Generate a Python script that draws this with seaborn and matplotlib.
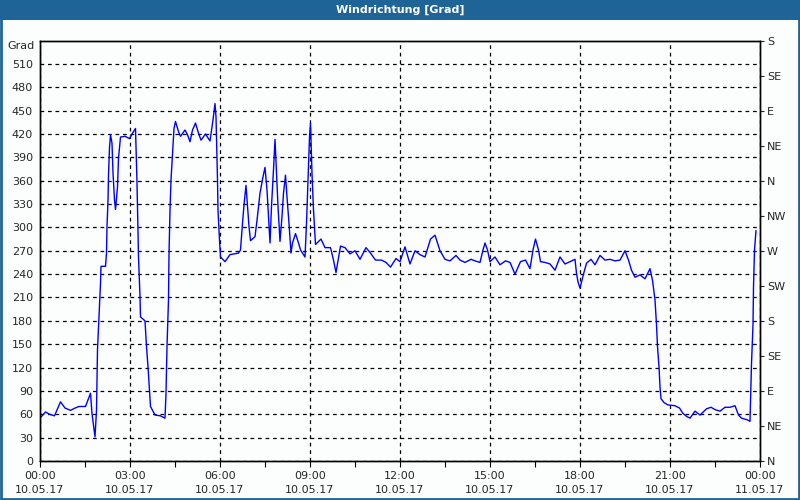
import numpy as np
import pandas as pd
import matplotlib
matplotlib.use('Agg')
import matplotlib.pyplot as plt
from matplotlib.patches import Rectangle
import seaborn as sns

# minutes since 10.05.17 00:00 and wind direction in degrees
minutes = [0, 11, 19, 29, 41, 50, 61, 70, 78, 91, 101, 104, 110, 113, 115, 118, 121, 122,
           131, 133, 134, 136, 137, 139, 141, 144, 146, 149, 151, 155, 157, 161, 170, 179,
           185, 191, 194, 197, 200, 201, 210, 213, 216, 219, 221, 230, 241, 250, 252, 254,
           257, 258, 260, 262, 265, 268, 271, 277, 281, 290, 295, 300, 305, 311, 317, 322,
           331, 340, 346, 350, 352, 355, 356, 359, 361, 370, 380, 397, 401, 404, 408, 412,
           415, 418, 421, 430, 434, 440, 446, 450, 454, 457, 460, 463, 467, 470, 473, 476,
           480, 484, 487, 491, 494, 498, 502, 505, 511, 517, 521, 530, 533, 536, 539, 541,
           544, 547, 551, 562, 570, 581, 587, 592, 601, 610, 620, 630, 640, 652, 661, 671,
           683, 692, 701, 712, 720, 730, 740, 750, 760, 770, 781, 790, 800, 810, 820, 832,
           840, 850, 862, 870, 880, 886, 890, 895, 900, 910, 920, 931, 940, 950, 961, 971,
           980, 986, 991, 997, 1001, 1010, 1020, 1030, 1040, 1050, 1060, 1070, 1073, 1076,
           1080, 1087, 1093, 1102, 1110, 1120, 1130, 1140, 1150, 1160, 1170, 1177, 1183,
           1190, 1200, 1210, 1220, 1225, 1230, 1233, 1235, 1238, 1240, 1242, 1248, 1256,
           1270, 1279, 1286, 1294, 1300, 1310, 1320, 1333, 1342, 1350, 1360, 1370, 1380,
           1390, 1397, 1403, 1414, 1420, 1421, 1423, 1426, 1427, 1429, 1432]
grad = [55, 63, 60, 58, 76, 68, 65, 68, 70, 70, 87, 61, 31, 65, 143, 185, 228, 250,
        250, 267, 301, 335, 367, 402, 419, 408, 370, 335, 323, 352, 389, 416, 417, 414,
        421, 427, 357, 262, 211, 185, 180, 147, 121, 91, 70, 59, 58, 55, 87, 147,
        207, 265, 322, 361, 395, 427, 436, 423, 417, 425, 419, 410, 425, 434, 421, 412,
        420, 411, 438, 459, 442, 361, 322, 284, 262, 256, 265, 267, 271, 297, 329, 354,
        327, 301, 283, 288, 309, 344, 365, 377, 348, 314, 280, 327, 374, 413, 369, 327,
        282, 314, 344, 367, 339, 305, 267, 280, 292, 280, 271, 262, 305, 361, 416, 434,
        369, 322, 278, 285, 274, 274, 258, 242, 276, 274, 266, 270, 259, 274, 267, 258,
        258, 255, 249, 260, 256, 275, 253, 270, 265, 262, 285, 290, 270, 259, 257, 264,
        258, 255, 259, 257, 255, 271, 280, 271, 256, 262, 252, 257, 255, 240, 256, 258,
        247, 271, 285, 271, 256, 255, 253, 245, 262, 253, 256, 259, 241, 230,
        222, 240, 254, 259, 252, 264, 258, 259, 257, 258, 270, 258, 245,
        236, 239, 234, 247, 232, 207, 175, 147, 121, 95, 80, 75, 72,
        71, 68, 61, 57, 55, 64, 59, 67, 69, 66, 64, 69, 69,
        71, 59, 55, 53, 51, 76, 125, 175, 223, 271, 296]

x_ticks = [0, 3, 6, 9, 12, 15, 18, 21, 24]
x_labels = ['00:00\n10.05.17', '03:00\n10.05.17', '06:00\n10.05.17', '09:00\n10.05.17',
            '12:00\n10.05.17', '15:00\n10.05.17', '18:00\n10.05.17', '21:00\n10.05.17',
            '00:00\n11.05.17']
y_ticks = list(range(0, 511, 30))
dir_ticks = list(range(0, 541, 45))
dir_labels = ['N', 'NE', 'E', 'SE', 'S', 'SW', 'W', 'NW', 'N', 'NE', 'E', 'SE', 'S']

df = pd.DataFrame({'h': np.array(minutes) / 60.0, 'grad': grad})

sns.set_style('white')
plt.rcParams['font.family'] = ['DejaVu Sans']
bg = '#FBFEFD'
blue_bar = '#1F6496'

fig = plt.figure(figsize=(8, 5), dpi=100, facecolor=bg)
# title bar and frame
fig.patches.append(Rectangle((0, 0.96), 1, 0.04, transform=fig.transFigure,
                             facecolor=blue_bar, edgecolor='none', zorder=0))
fig.patches.append(Rectangle((0.001, 0.002), 0.998, 0.996, transform=fig.transFigure,
                             facecolor='none', edgecolor=blue_bar, lw=2, zorder=0))
fig.text(0.5, 0.98, 'Windrichtung [Grad]', color='white', fontsize=8, fontweight='bold',
         ha='center', va='center')

ax = fig.add_axes([0.05, 0.078, 0.9, 0.841])
ax.set_facecolor(bg)
sns.lineplot(data=df, x='h', y='grad', ax=ax, color='#0000FF', lw=1)

ax.set_xlim(0, 24)
ax.set_ylim(0, 540)
ax.set_xticks(x_ticks)
ax.set_xticklabels(x_labels, fontsize=8, linespacing=1.5)
ax.set_xticks([1.5, 4.5, 7.5, 10.5, 13.5, 16.5, 19.5, 22.5], minor=True)
ax.set_yticks(y_ticks)
ax.set_yticklabels([str(v) for v in y_ticks], fontsize=8)
ax.tick_params(axis='x', which='both', direction='out', length=4, width=0.8,
               color='black', pad=3, bottom=True)
ax.tick_params(axis='y', length=0, pad=5)
ax.set_xlabel('')
ax.set_ylabel('')
ax.text(-0.007, 1.0, 'Grad', transform=ax.transAxes, ha='right', va='top', fontsize=8)

ax.grid(True, which='major', color='black', linestyle=(0, (3, 3)), lw=0.9)
for s in ax.spines.values():
    s.set_color('black')
    s.set_linewidth(1)

ax2 = ax.twinx()
ax2.set_ylim(0, 540)
ax2.set_yticks(dir_ticks)
ax2.set_yticklabels(dir_labels, fontsize=8)
ax2.tick_params(axis='y', direction='out', length=3, width=0.8, pad=2)
for s in ax2.spines.values():
    s.set_color('black')
    s.set_linewidth(1)

fig.savefig('out.png', dpi=100, facecolor=bg)
